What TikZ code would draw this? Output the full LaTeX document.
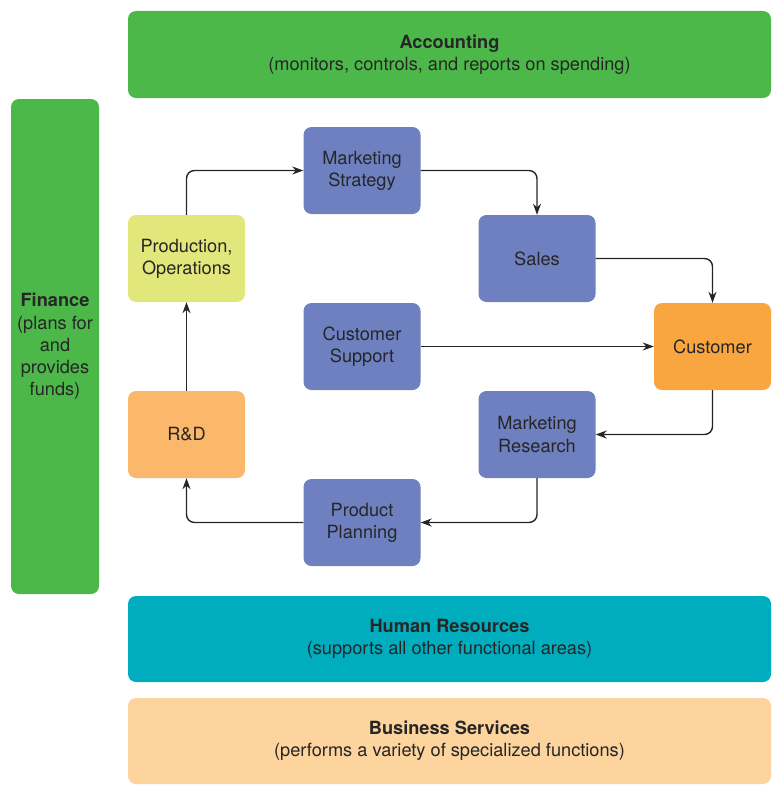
\documentclass[tikz,border=0pt]{standalone}
\usepackage{fontspec}
\setmainfont{TeX Gyre Heros}
\usepackage{tikz}
\usetikzlibrary{arrows.meta}

\definecolor{areagreen}{HTML}{4DB84A}
\definecolor{areablue}{HTML}{6E80C0}
\definecolor{areayellow}{HTML}{E2E77B}
\definecolor{areaorange}{HTML}{FBB86A}
\definecolor{custorange}{HTML}{F9A640}
\definecolor{areateal}{HTML}{00ADBF}
\definecolor{areapeach}{HTML}{FDD39E}
\definecolor{inkgray}{HTML}{262626}

\begin{document}
\begin{tikzpicture}[x=1pt, y=-1pt,
    every node/.style={text=inkgray, font=\fontsize{18.2}{22.3}\selectfont},
    area/.style={rectangle, rounded corners=8pt, inner sep=0pt, align=center},
    unit/.style={area, minimum width=117pt, minimum height=87pt},
    band/.style={area, minimum width=643pt, minimum height=87pt},
    flow/.style={draw=inkgray, line width=1.4pt, rounded corners=8pt,
      -{Stealth[length=11pt, width=8pt, inset=3.5pt]}}]
  \useasboundingbox (0,0) rectangle (780,792);

  % support areas
  \node[band, fill=areagreen] (acct) at (449.5,54.5)
    {\textbf{Accounting}\\(monitors, controls, and reports on spending)};
  \node[area, fill=areagreen, minimum width=88pt, minimum height=495pt] (fin) at (55,346.5)
    {\textbf{Finance}\\(plans for\\and\\provides\\funds)};
  \node[band, fill=areateal, minimum height=86pt] (hr) at (449.5,639)
    {\textbf{Human Resources}\\(supports all other functional areas)};
  \node[band, fill=areapeach, minimum height=86pt] (bs) at (449.5,741)
    {\textbf{Business Services}\\(performs a variety of specialized functions)};

  % the cycle
  \node[unit, fill=areayellow] (prod) at (186.5,258.5) {Production,\\Operations};
  \node[unit, fill=areablue] (strat) at (362,170.5) {Marketing\\Strategy};
  \node[unit, fill=areablue] (sales) at (537,258.5) {Sales};
  \node[unit, fill=custorange] (cust) at (712.5,346.5) {Customer};
  \node[unit, fill=areablue] (supp) at (362,346.5) {Customer\\Support};
  \node[unit, fill=areaorange] (rd) at (186.5,434.5) {R\&D};
  \node[unit, fill=areablue] (res) at (537,434.5) {Marketing\\Research};
  \node[unit, fill=areablue] (plan) at (362,522.5) {Product\\Planning};

  \draw[flow] (prod.north) |- (strat.west);
  \draw[flow] (strat.east) -| (sales.north);
  \draw[flow] (sales.east) -| (cust.north);
  \draw[flow] (supp.east) -- (cust.west);
  \draw[flow] (cust.south) |- (res.east);
  \draw[flow] (res.south) |- (plan.east);
  \draw[flow] (plan.west) -| (rd.south);
  \draw[flow] (rd.north) -- (prod.south);
\end{tikzpicture}
\end{document}
